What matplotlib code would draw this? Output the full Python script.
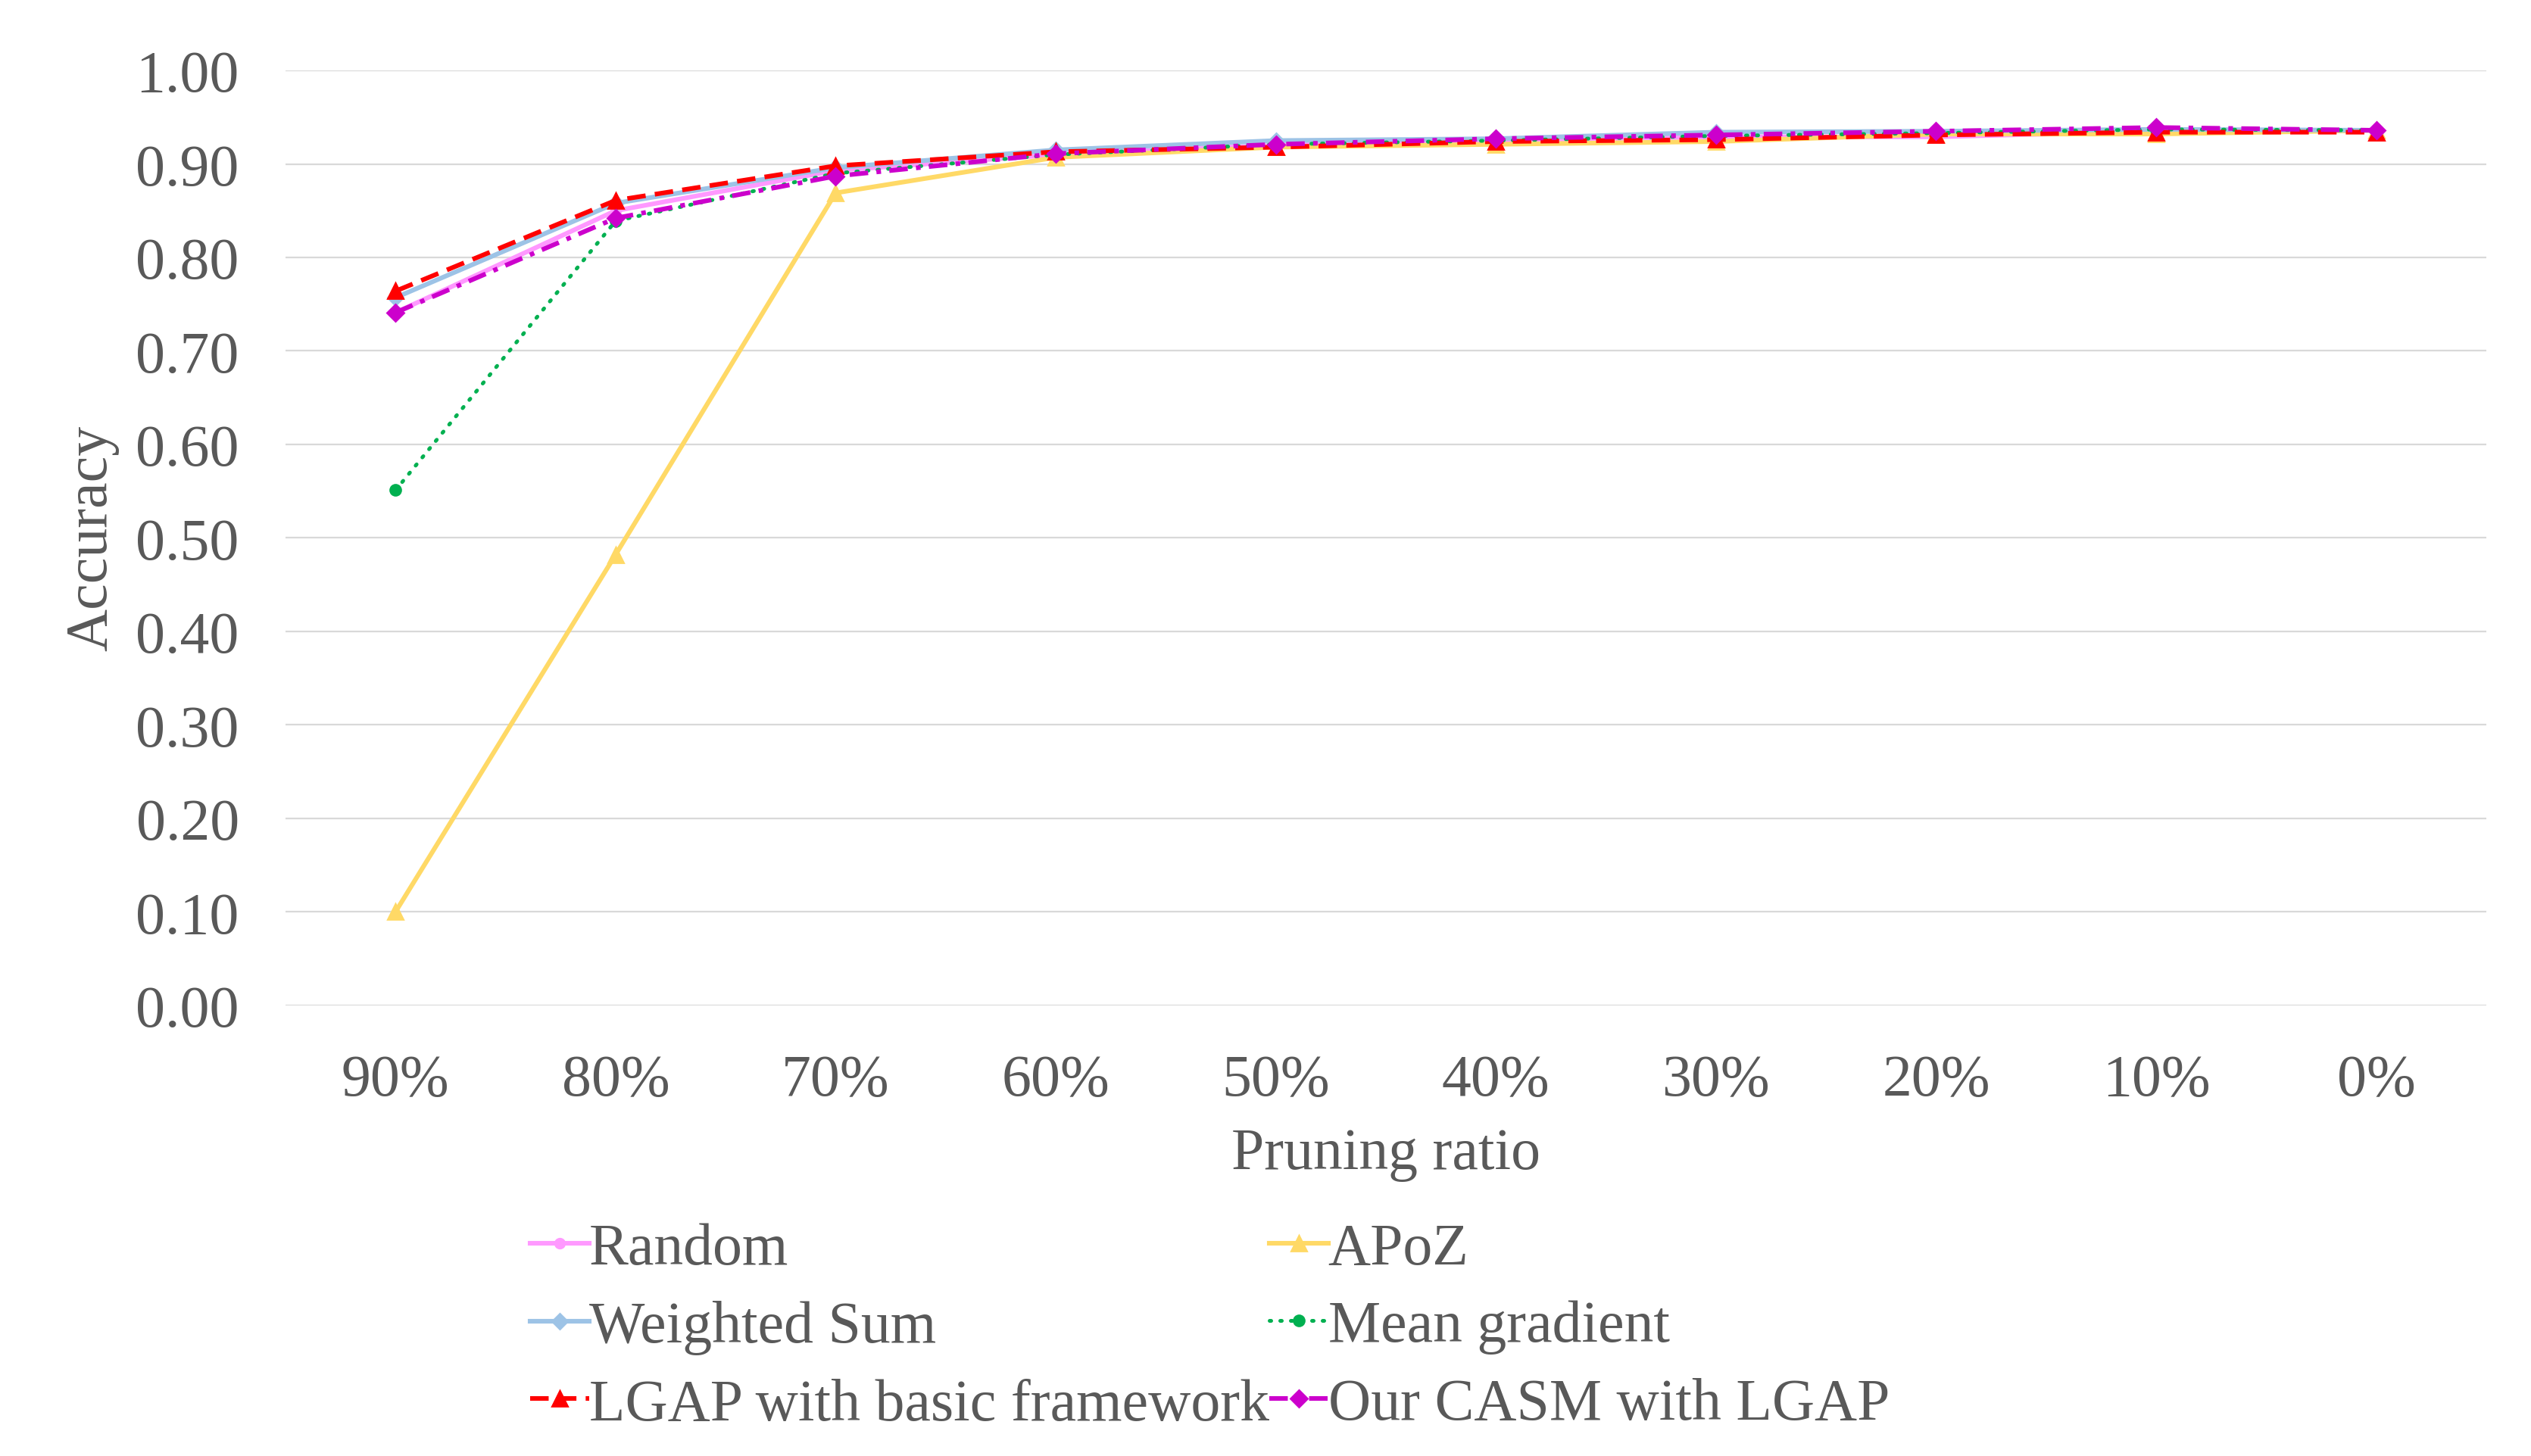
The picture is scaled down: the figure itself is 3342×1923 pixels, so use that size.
import matplotlib
matplotlib.use("Agg")
import matplotlib.pyplot as plt

categories = ["90%", "80%", "70%", "60%", "50%", "40%", "30%", "20%", "10%", "0%"]
random_acc = [0.741, 0.850, 0.893, 0.910, 0.920, 0.925, 0.929, 0.929, 0.935, 0.936]
apoz_acc = [0.100, 0.482, 0.869, 0.907, 0.918, 0.921, 0.924, 0.932, 0.932, 0.936]
wsum_acc = [0.757, 0.858, 0.896, 0.915, 0.925, 0.927, 0.934, 0.935, 0.937, 0.936]
meangrad_acc = [0.551, 0.839, 0.890, 0.910, 0.921, 0.925, 0.930, 0.933, 0.937, 0.936]
lgap_acc = [0.764, 0.861, 0.898, 0.913, 0.918, 0.924, 0.926, 0.931, 0.934, 0.934]
casm_acc = [0.741, 0.842, 0.887, 0.911, 0.921, 0.927, 0.931, 0.935, 0.939, 0.936]
y_ticks = [0.0, 0.1, 0.2, 0.3, 0.4, 0.5, 0.6, 0.7, 0.8, 0.9, 1.0]

plt.rcParams['font.family'] = ['Liberation Serif', 'DejaVu Serif']
TXT = '#595959'
FS = 28

fig = plt.figure(figsize=(16.71, 9.62), dpi=200)
ax = fig.add_axes([0.1128, 0.3094, 0.8695, 0.6417])

x = list(range(len(categories)))
lw = 2.2
h_random, = ax.plot(x, random_acc, color='#FF99FF', lw=lw, marker='o', ms=4.5, label='Random', zorder=3)
h_apoz, = ax.plot(x, apoz_acc, color='#FFD966', lw=lw, marker='^', ms=7, label='APoZ', zorder=3)
h_ws, = ax.plot(x, wsum_acc, color='#9DC3E6', lw=lw, marker='D', ms=5, label='Weighted Sum', zorder=3)
h_mg, = ax.plot(x, meangrad_acc, color='#00B050', lw=1.8, marker='o', ms=5, label='Mean gradient',
                dashes=(0.4, 2.4), dash_capstyle='round', zorder=3)
h_lgap, = ax.plot(x, lgap_acc, color='#FF0000', lw=lw, marker='^', ms=7, label='LGAP with basic framework',
                  dashes=(4, 2), zorder=3)
h_casm, = ax.plot(x, casm_acc, color='#CC00CC', lw=lw, marker='D', ms=5.5, label='Our CASM with LGAP',
                  dashes=(4, 1.8, 1, 1.8), zorder=3)

ax.set_xlim(-0.5, len(categories) - 0.5)
ax.set_ylim(0, 1.0)
ax.set_yticks(y_ticks)
ax.set_yticklabels([f"{v:.2f}" for v in y_ticks])
ax.set_xticks(x)
ax.set_xticklabels(categories)
ax.tick_params(axis='both', length=0, labelsize=FS, labelcolor=TXT)
ax.tick_params(axis='y', pad=22)
ax.tick_params(axis='x', pad=23)
ax.grid(axis='y', color='#D9D9D9', lw=0.8, zorder=0)
for s in ax.spines.values():
    s.set_visible(False)
ax.set_axisbelow(True)

ax.set_xlabel('Pruning ratio', fontsize=FS, color=TXT, labelpad=9)
ax.set_ylabel('Accuracy', fontsize=FS, color=TXT, labelpad=8)

handles = [h_random, h_ws, h_lgap, h_apoz, h_mg, h_casm]
leg = fig.legend(handles=handles, labels=[h.get_label() for h in handles],
                 loc='center', bbox_to_anchor=(0.478, 0.0884), ncol=2, frameon=False,
                 fontsize=FS, labelcolor=TXT, handlelength=1.0, handletextpad=0.0,
                 columnspacing=0.0, labelspacing=0.4, borderaxespad=0)

fig.savefig('out.png', dpi=200, facecolor='white')
